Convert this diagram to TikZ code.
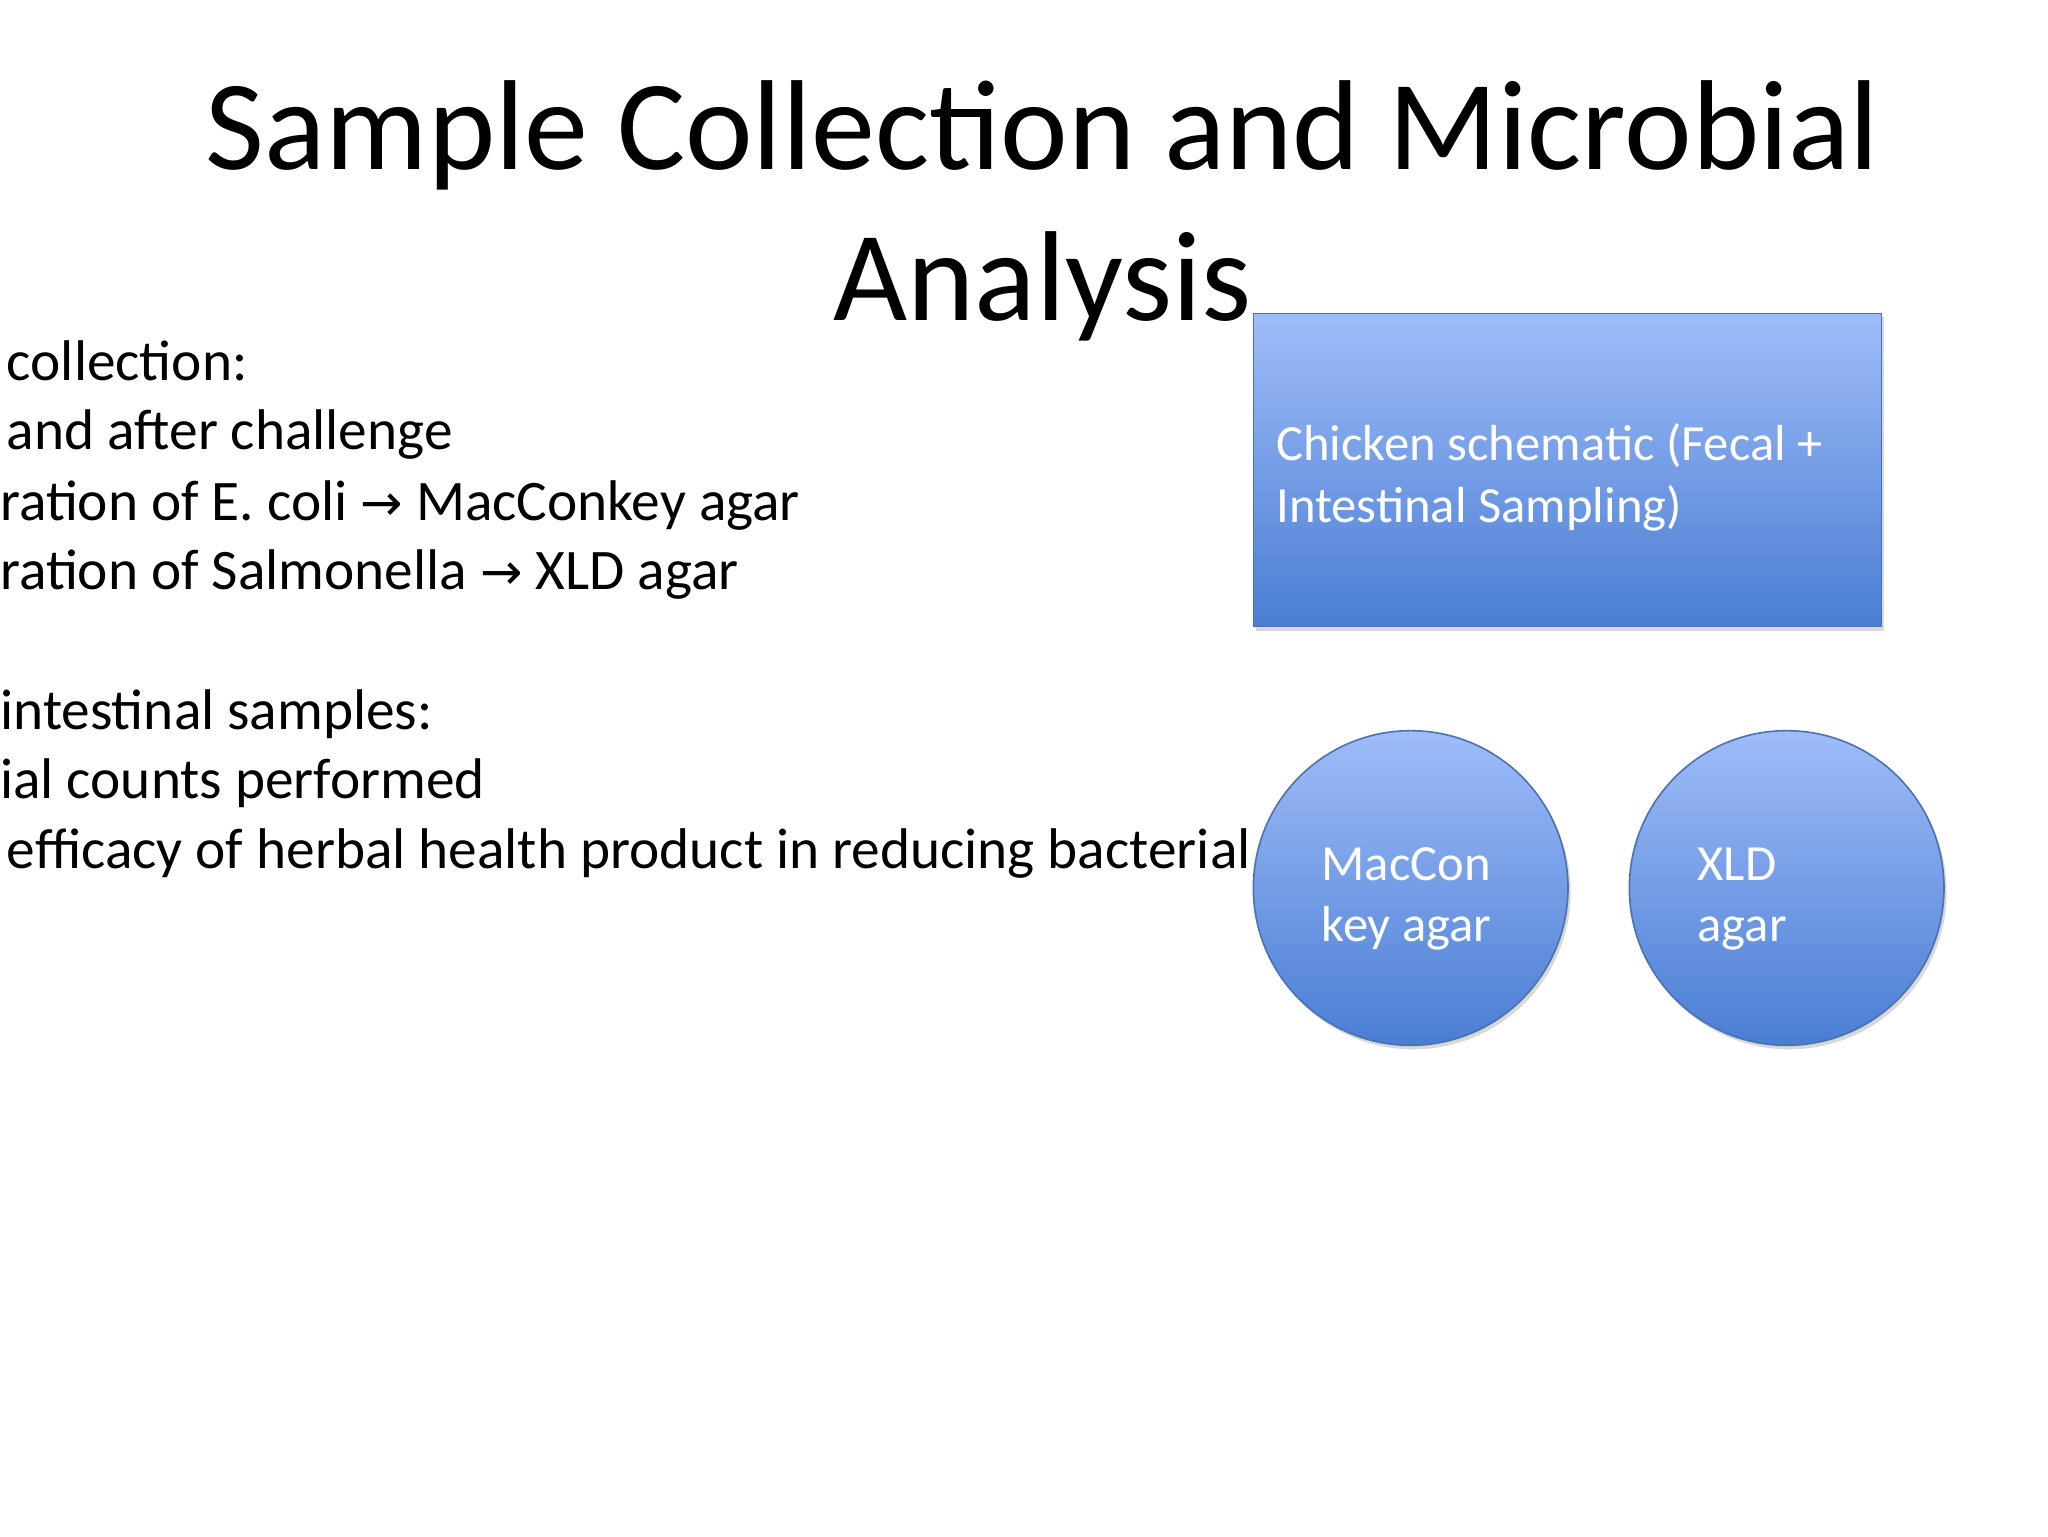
\documentclass[tikz,border=0pt]{standalone}
\usepackage{fontspec}
\setmainfont{Carlito}
\newfontfamily\arrowfont{DejaVu Sans}
\usetikzlibrary{shadows}
\definecolor{topblue}{HTML}{9FBCF9}
\definecolor{botblue}{HTML}{4A7ED3}
\definecolor{edgeblue}{HTML}{4A72B0}
\tikzset{x=1pt,y=-1pt,
 shape3d/.style={draw=edgeblue,line width=1.2pt,top color=topblue,bottom color=botblue,drop shadow={shadow xshift=2pt,shadow yshift=-3pt,opacity=0.3}},
 body/.style={anchor=base west,inner sep=0pt,font=\fontsize{43}{50}\selectfont},
 inner/.style={anchor=base west,inner sep=0pt,text=white,font=\fontsize{38}{46}\selectfont}}
\newcommand{\arr}{{\arrowfont\fontsize{38}{40}\selectfont →}}
\begin{document}
\begin{tikzpicture}
\useasboundingbox (0,0) rectangle (1536,1152);
\clip (0,0) rectangle (1536,1152);
\fill[white] (0,0) rectangle (1536,1152);
\node[anchor=base,inner sep=0pt,font=\fontsize{96}{113}\selectfont] (t1) at (782,127) {Sample Collection and Microbial};
\node[anchor=base,inner sep=0pt,font=\fontsize{96}{113}\selectfont] (t2) at (782,240) {Analysis};
\node[body] (l1) at (5,285) {\llap{Fecal sample }collection:};
\node[body] (l2) at (5,337) {\llap{– Before }and after challenge};
\node[body] (l3) at (0,390) {\llap{– Enume}ration of E. coli \arr{} MacConkey agar};
\node[body] (l4) at (0,442) {\llap{– Enume}ration of Salmonella \arr{} XLD agar};
\node[body] (l6) at (0,547) {\llap{Post-mortem }intestinal samples:};
\node[body] (l7) at (0,599) {\llap{– Microb}ial counts performed};
\node[body] (l8) at (5,651) {\llap{– Assess }efficacy of herbal health product in reducing bacterial load};
\draw[shape3d] (940,235) rectangle (1411,470);
\node[inner] (b1) at (957,345) {Chicken schematic (Fecal +};
\node[inner] (b2) at (957,392) {Intestinal Sampling)};
\node[shape3d,circle,minimum size=236pt,inner sep=0pt] (c1) at (1058,666) {};
\node[shape3d,circle,minimum size=236pt,inner sep=0pt] (c2) at (1340,666) {};
\node[inner] (m1) at (991,660) {MacCon};
\node[inner] (m2) at (991,706) {key agar};
\node[inner] (x1) at (1273,660) {XLD};
\node[inner] (x2) at (1273,706) {agar};
\end{tikzpicture}
\end{document}
